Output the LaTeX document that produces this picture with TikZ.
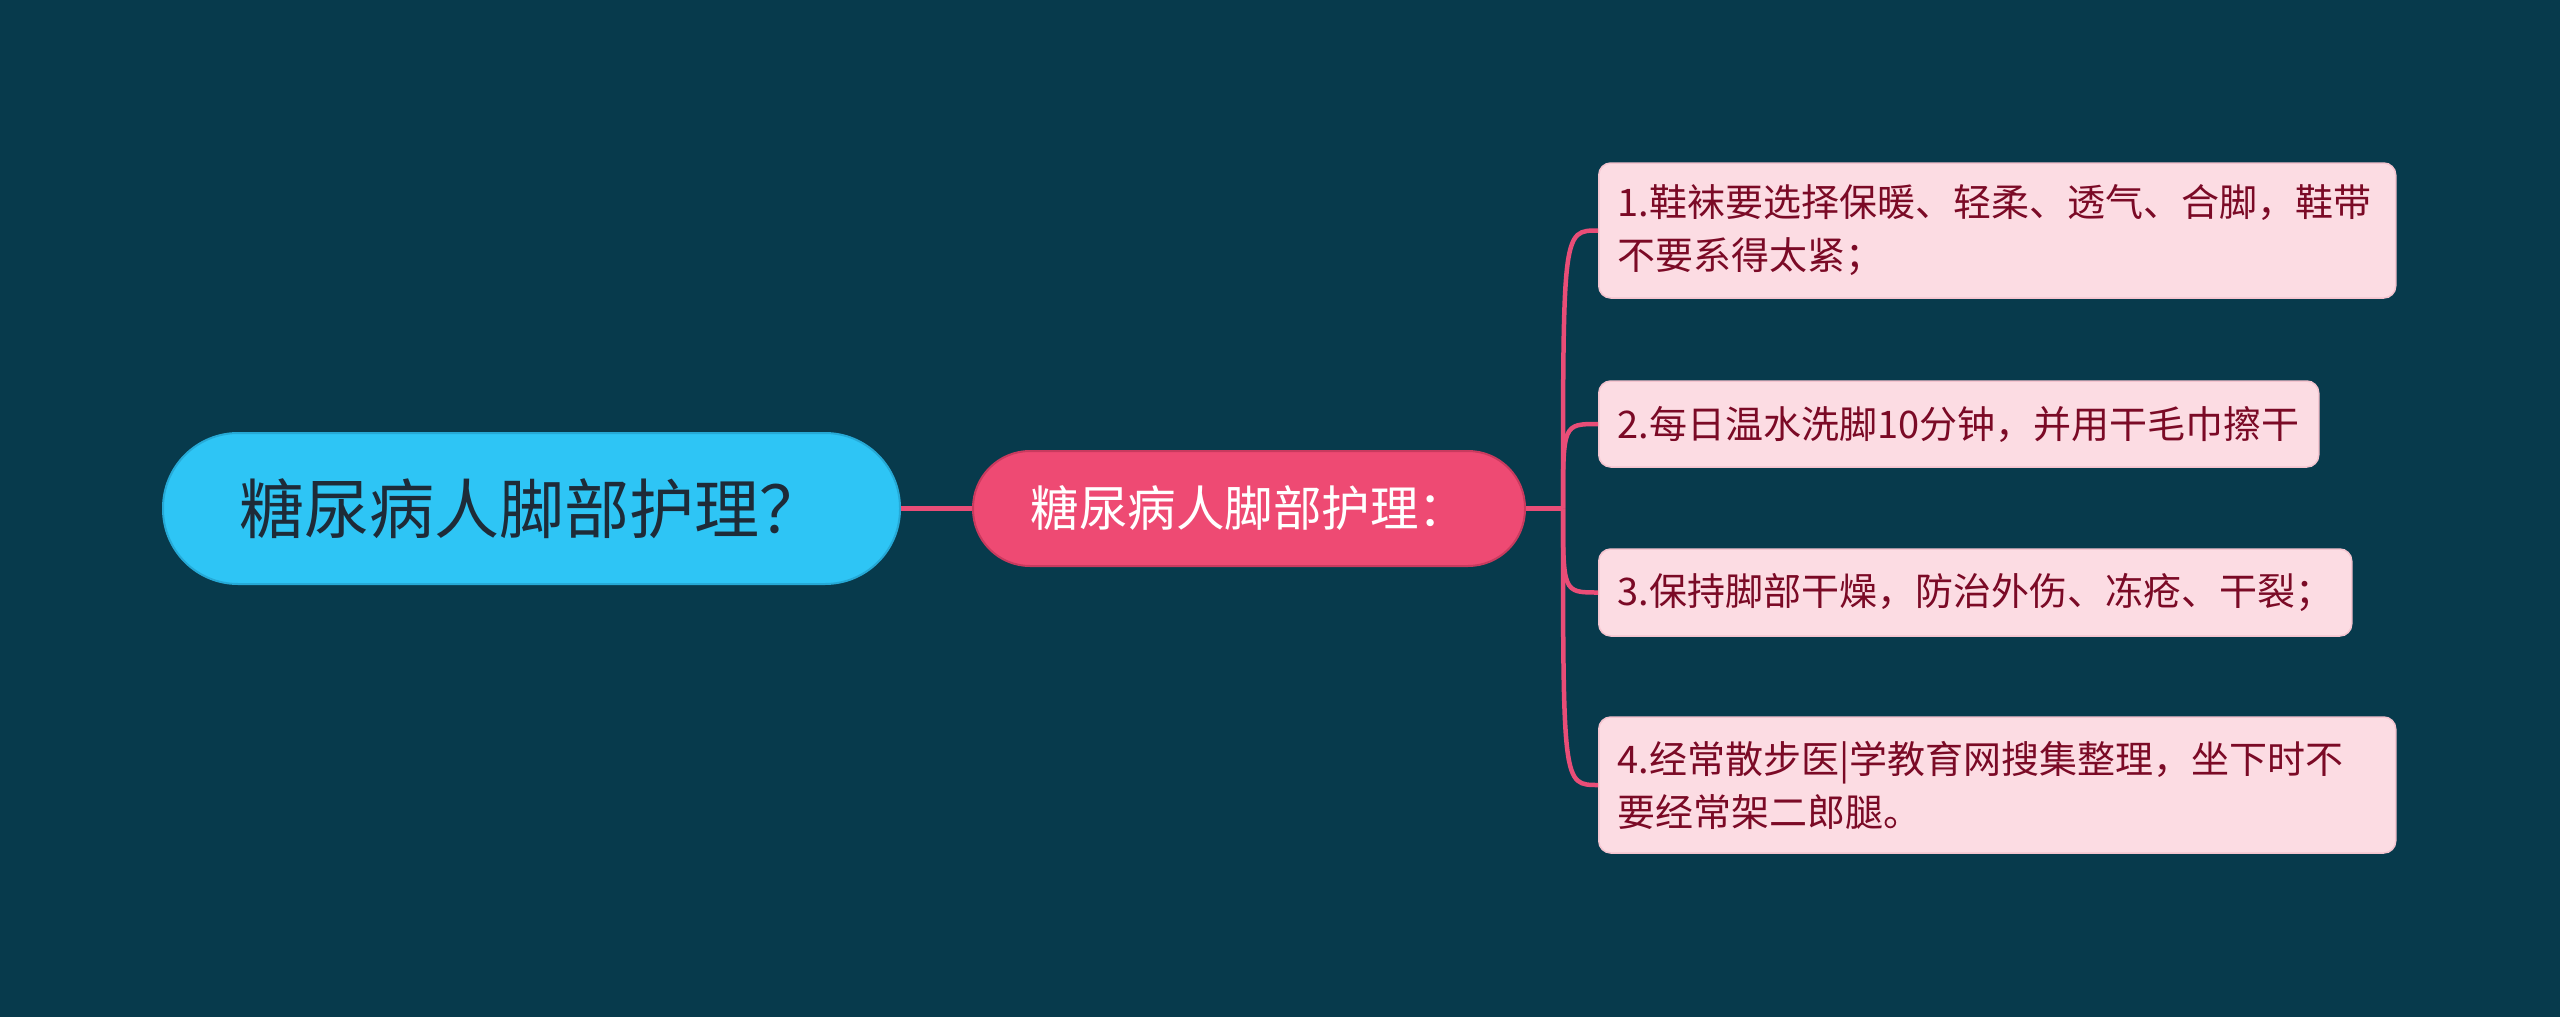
\documentclass[tikz,border=0pt]{standalone}
\usepackage{fontspec}
\setmainfont{Noto Sans CJK SC}
\definecolor{bg}{HTML}{073A4C}
\definecolor{rootfill}{HTML}{2EC5F5}
\definecolor{rootdraw}{HTML}{26A9D6}
\definecolor{roottext}{HTML}{1E2B38}
\definecolor{midfill}{HTML}{EE4A73}
\definecolor{middraw}{HTML}{C93A5E}
\definecolor{leaffill}{HTML}{FCDCE3}
\definecolor{leafdraw}{HTML}{F4C4CF}
\definecolor{leaftext}{HTML}{7B0A26}
\definecolor{conncol}{HTML}{E94D77}
\begin{document}
\begin{tikzpicture}[x=1pt,y=-1pt,
  rootbox/.style={fill=rootfill,draw=rootdraw,line width=2pt,rounded corners=75pt,
    minimum width=737pt,minimum height=151pt,inner sep=0pt,text=roottext,
    font=\fontsize{65}{74}\selectfont},
  midbox/.style={fill=midfill,draw=middraw,line width=2pt,rounded corners=57pt,
    minimum width=552pt,minimum height=115pt,inner sep=0pt,text=white,
    font=\fontsize{48.5}{56}\selectfont},
  leafbox/.style={fill=leaffill,draw=leafdraw,line width=1.5pt,rounded corners=12pt,
    anchor=west,inner xsep=19pt,inner ysep=0pt,align=left,text=leaftext,
    font=\fontsize{38}{53}\selectfont},
  conn/.style={draw=conncol,line width=4.5pt}]
\fill[bg] (0,0) rectangle (2560,1017);
\useasboundingbox (0,0) rectangle (2560,1017);

\node[rootbox] (root) at (531.5,508.5) {糖尿病人脚部护理？};
\node[midbox] (mid) at (1249,508.5) {糖尿病人脚部护理：};
\coordinate (j) at (1563,508.5);

\node[leafbox,text width=759pt,minimum height=135pt] (l1) at (1598,230.5)
  {1.鞋袜要选择保暖、轻柔、透气、合脚，鞋带\\不要系得太紧；};
\node[leafbox,text width=682pt,minimum height=86pt] (l2) at (1598,424)
  {2.每日温水洗脚10分钟，并用干毛巾擦干};
\node[leafbox,text width=715pt,minimum height=87pt] (l3) at (1598,592.5)
  {3.保持脚部干燥，防治外伤、冻疮、干裂；};
\node[leafbox,text width=759pt,minimum height=136pt] (l4) at (1598,785)
  {4.经常散步医|学教育网搜集整理，坐下时不\\要经常架二郎腿。};

\draw[conn] (root.east) -- (mid.west);
\draw[conn] (mid.east) -- (j);
\draw[conn] (j) .. controls (1563,230.5) and (1563,230.5) .. (l1.west);
\draw[conn] (j) .. controls (1563,424) and (1563,424) .. (l2.west);
\draw[conn] (j) .. controls (1563,592.5) and (1563,592.5) .. (l3.west);
\draw[conn] (j) .. controls (1563,785) and (1563,785) .. (l4.west);
\end{tikzpicture}
\end{document}
